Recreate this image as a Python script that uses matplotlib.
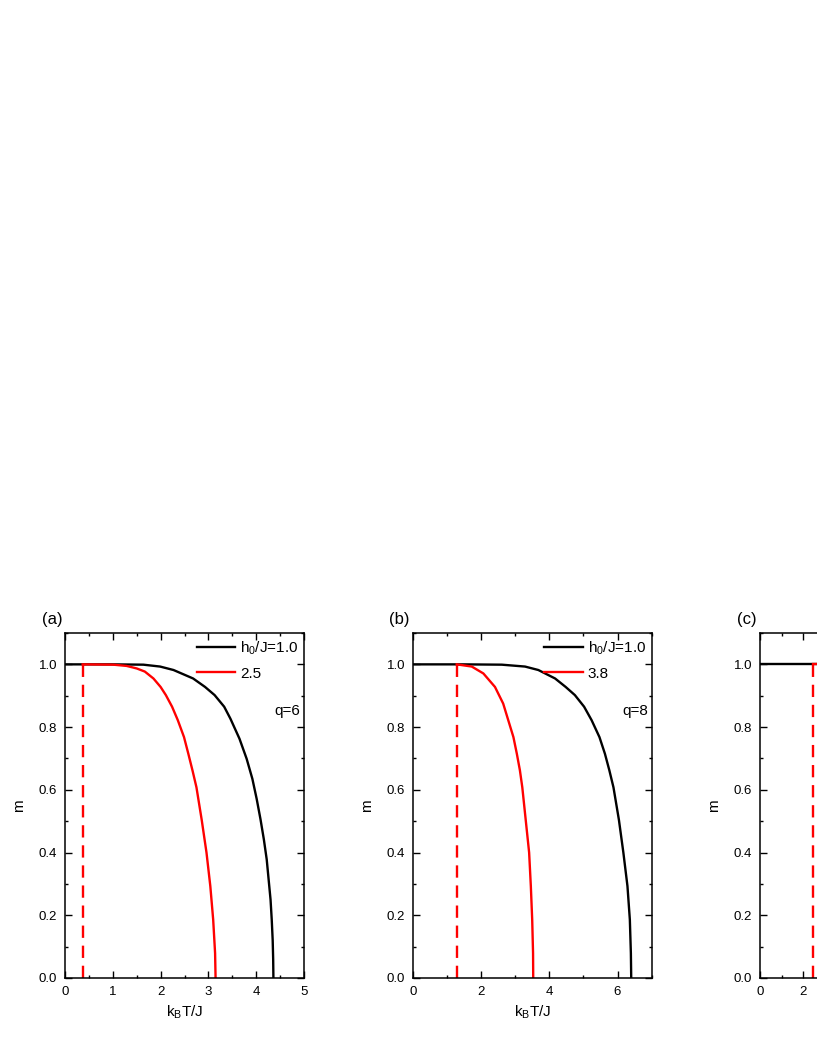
import matplotlib
matplotlib.use("Agg")
import matplotlib.pyplot as plt
from matplotlib.ticker import MultipleLocator

plt.rcParams['font.family'] = ['Liberation Sans', 'DejaVu Sans']
plt.rcParams['mathtext.fontset'] = 'custom'
plt.rcParams['mathtext.rm'] = 'Liberation Sans'
plt.rcParams['mathtext.it'] = 'Liberation Sans:italic'

# ---- data ----
# panel (a), q=6
a_black_T = [0.0, 1.0, 1.64, 1.99, 2.27, 2.68, 2.93, 3.13, 3.33, 3.46, 3.65, 3.80, 3.92, 4.01, 4.09,
             4.16, 4.22, 4.26, 4.30, 4.325, 4.345, 4.355, 4.36]
a_black_m = [1.0, 1.0, 0.999, 0.993, 0.982, 0.955, 0.928, 0.902, 0.865, 0.827, 0.763, 0.699, 0.635,
             0.571, 0.506, 0.442, 0.378, 0.314, 0.25, 0.186, 0.12, 0.06, 0.0]
a_red_T = [0.37, 1.01, 1.29, 1.50, 1.67, 1.85, 2.00, 2.11, 2.24, 2.36, 2.49, 2.58, 2.67, 2.75, 2.86,
           2.96, 3.04, 3.10, 3.14, 3.15]
a_red_m = [1.0, 0.999, 0.995, 0.987, 0.977, 0.955, 0.928, 0.902, 0.865, 0.822, 0.768, 0.715, 0.66,
           0.608, 0.504, 0.40, 0.293, 0.186, 0.079, 0.0]
a_jump_T = 0.37

# panel (b), q=8
b_black_T = [0.0, 1.5, 2.61, 3.29, 3.68, 4.17, 4.48, 4.75, 5.02, 5.24, 5.47, 5.63, 5.76, 5.88, 6.04,
             6.17, 6.29, 6.36, 6.39, 6.40]
b_black_m = [1.0, 1.0, 0.999, 0.993, 0.982, 0.955, 0.928, 0.902, 0.865, 0.822, 0.768, 0.715, 0.662,
             0.608, 0.504, 0.40, 0.293, 0.186, 0.079, 0.0]
b_red_T = [1.29, 1.73, 2.07, 2.41, 2.65, 2.95, 3.05, 3.14, 3.21, 3.31, 3.41, 3.46, 3.50, 3.525, 3.53]
b_red_m = [1.0, 0.993, 0.971, 0.928, 0.875, 0.768, 0.715, 0.662, 0.608, 0.504, 0.40, 0.293, 0.186,
           0.079, 0.0]
b_jump_T = 1.29

# panel (c) (only the left part is visible)
c_black_T = [0.0, 3.0]
c_black_m = [1.0, 1.0]
c_red_T = [2.43, 3.0]
c_red_m = [1.0, 1.0]
c_jump_T = 2.43

panels = [
    dict(label='(a)', q='q=6', h2='2.5', xmax=5, xmaj=1, xmin=0.5,
         bT=a_black_T, bm=a_black_m, rT=a_red_T, rm=a_red_m, jT=a_jump_T, visible_x=5),
    dict(label='(b)', q='q=8', h2='3.8', xmax=7, xmaj=2, xmin=1,
         bT=b_black_T, bm=b_black_m, rT=b_red_T, rm=b_red_m, jT=b_jump_T, visible_x=7),
    dict(label='(c)', q='', h2='', xmax=11, xmaj=2, xmin=1,
         bT=c_black_T, bm=c_black_m, rT=c_red_T, rm=c_red_m, jT=c_jump_T, visible_x=2),
]

W, H = 817, 1058
fig = plt.figure(figsize=(W / 100, H / 100), dpi=100)
lefts = [65, 412.7, 760]
for left, p in zip(lefts, panels):
    ax = fig.add_axes([left / W, (H - 978) / H, 239 / W, 345 / H])
    ax.plot(p['bT'], p['bm'], color='black', lw=1.7, label='h$_0$/J=1.0')
    ax.plot(p['rT'], p['rm'], color='red', lw=1.7, label=p['h2'])
    ax.plot([p['jT'], p['jT']], [0, 1.0], color='red', lw=1.7,
            linestyle=(0, (5.2, 3.3)))
    ax.set_xlim(0, p['xmax'])
    ax.set_ylim(0, 1.1)
    ax.xaxis.set_major_locator(MultipleLocator(p['xmaj']))
    ax.xaxis.set_minor_locator(MultipleLocator(p['xmin']))
    xt = [v for v in range(0, p['xmax'] + 1, p['xmaj'])]
    ax.set_xticks(xt)
    ax.set_xticklabels([str(v) if v <= p['visible_x'] else '' for v in xt])
    ax.yaxis.set_minor_locator(MultipleLocator(0.1))
    ax.set_yticks([0, 0.2, 0.4, 0.6, 0.8, 1.0])
    ax.set_yticklabels(['0.0', '0.2', '0.4', '0.6', '0.8', '1.0'])
    ax.tick_params(which='both', direction='in', top=True, right=True,
                   labelsize=9.5, width=1.0)
    ax.tick_params(axis='x', which='major', length=5, pad=6)
    ax.tick_params(axis='y', which='major', length=5, pad=5.5)
    ax.tick_params(which='minor', length=2.5)
    for s in ax.spines.values():
        s.set_linewidth(1.1)
    ax.set_ylabel('m', fontsize=11, labelpad=9)
    if p['q']:
        ax.set_xlabel('k$_\\mathregular{B}$T/J', fontsize=11, labelpad=4)
    ax.text(-0.098, 1.04, p['label'], transform=ax.transAxes,
            fontsize=12, ha='left', va='center')
    if p['q']:
        ax.text(0.985, 0.85, p['q'], transform=ax.get_yaxis_transform(),
                fontsize=11, ha='right', va='center')
        ax.legend(loc='upper right', bbox_to_anchor=(1.008, 1.004), frameon=False,
                  fontsize=11, handlelength=2.5, handletextpad=0.33,
                  labelspacing=0.65, borderaxespad=0.2, borderpad=0.3)

fig.savefig('out.png', dpi=100)
